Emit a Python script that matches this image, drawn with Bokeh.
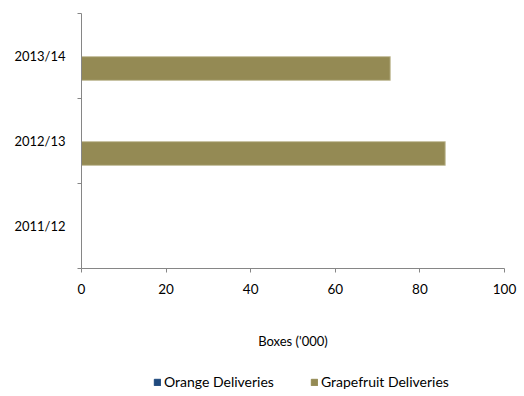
from bokeh.plotting import figure
from bokeh.layouts import column
from bokeh.models import ColumnDataSource, FixedTicker, Legend, LegendItem, Range1d
from bokeh.transform import dodge
from bokeh.embed import file_html
from bokeh.resources import INLINE

seasons = ["2011/12", "2012/13", "2013/14"]
orange_deliveries = [0, 0, 0]
grapefruit_deliveries = [0, 86, 73]
x_ticks = [0, 20, 40, 60, 80, 100]

FONT = "Lato"
FS = "13.5px"
OR_FILL, OR_LINE = "#1F497D", "#8EA5C8"
GF_FILL, GF_LINE = "#948A54", "#C9C3A4"
idx = [i + 0.5 for i in range(len(seasons))]
src = ColumnDataSource(dict(y=idx, orange=orange_deliveries, grapefruit=grapefruit_deliveries))

p = figure(width=524, height=372, output_backend="svg", toolbar_location=None,
           x_range=Range1d(0, 100), y_range=Range1d(0, len(seasons)),
           min_border_left=81, min_border_right=20, min_border_top=13, min_border_bottom=104)
p.outline_line_color = None
p.xgrid.grid_line_color = None
p.ygrid.grid_line_color = None

p.hbar(y=dodge("y", 0.147, range=p.y_range), right="orange", left=0, height=0.28,
       source=src, fill_color=OR_FILL, line_color=OR_LINE, line_width=1)
p.hbar(y=dodge("y", -0.147, range=p.y_range), right="grapefruit", left=0, height=0.28,
       source=src, fill_color=GF_FILL, line_color=GF_LINE, line_width=1)

axis_color = "#868686"
xa = p.xaxis[0]
xa.ticker = FixedTicker(ticks=x_ticks)
xa.axis_line_color = axis_color
xa.major_tick_line_color = axis_color
xa.major_tick_in = 0
xa.major_tick_out = 4
xa.minor_tick_line_color = None
xa.major_label_text_font = FONT
xa.major_label_text_font_size = FS
xa.major_label_text_color = "#000000"
xa.major_label_standoff = 11
xa.axis_label = "Boxes ('000)"
xa.axis_label_text_font = FONT
xa.axis_label_text_font_size = "13px"
xa.axis_label_text_font_style = "normal"
xa.axis_label_text_color = "#000000"
xa.axis_label_standoff = 36

ya = p.yaxis[0]
ya.ticker = FixedTicker(ticks=idx, minor_ticks=list(range(len(seasons) + 1)))
ya.major_label_overrides = {v: s for v, s in zip(idx, seasons)}
ya.axis_line_color = axis_color
ya.major_tick_line_color = None
ya.major_tick_in = 0
ya.major_tick_out = 0
ya.minor_tick_line_color = axis_color
ya.minor_tick_in = 0
ya.minor_tick_out = 4
ya.major_label_text_font = FONT
ya.major_label_text_font_size = "13px"
ya.major_label_text_color = "#000000"
ya.major_label_standoff = 12

# legend strip below the chart (its bars lie outside its visible range)
pl = figure(width=524, height=24, output_backend="svg", toolbar_location=None,
            x_range=Range1d(0, 100), y_range=Range1d(50, 51),
            min_border_left=0, min_border_right=0, min_border_top=0, min_border_bottom=0)
pl.axis.visible = False
pl.grid.visible = False
pl.outline_line_color = None
l_or = pl.hbar(y="y", right="orange", left=0, height=0.3, source=src,
               fill_color=OR_FILL, line_color=OR_FILL)
l_gf = pl.hbar(y="y", right="grapefruit", left=0, height=0.3, source=src,
               fill_color=GF_FILL, line_color=GF_FILL)
legend = Legend(items=[LegendItem(label="Orange Deliveries", renderers=[l_or]),
                       LegendItem(label="Grapefruit Deliveries", renderers=[l_gf])],
                orientation="horizontal", location=(72, 6),
                padding=0, margin=0, spacing=36, label_standoff=3,
                glyph_width=8, glyph_height=8,
                label_text_font=FONT, label_text_font_size="14px",
                label_text_color="#000000", border_line_color=None,
                background_fill_alpha=0)
pl.add_layout(legend, "center")

layout = column(p, pl, spacing=0)
open("out.html", "w").write(file_html(layout, INLINE))
